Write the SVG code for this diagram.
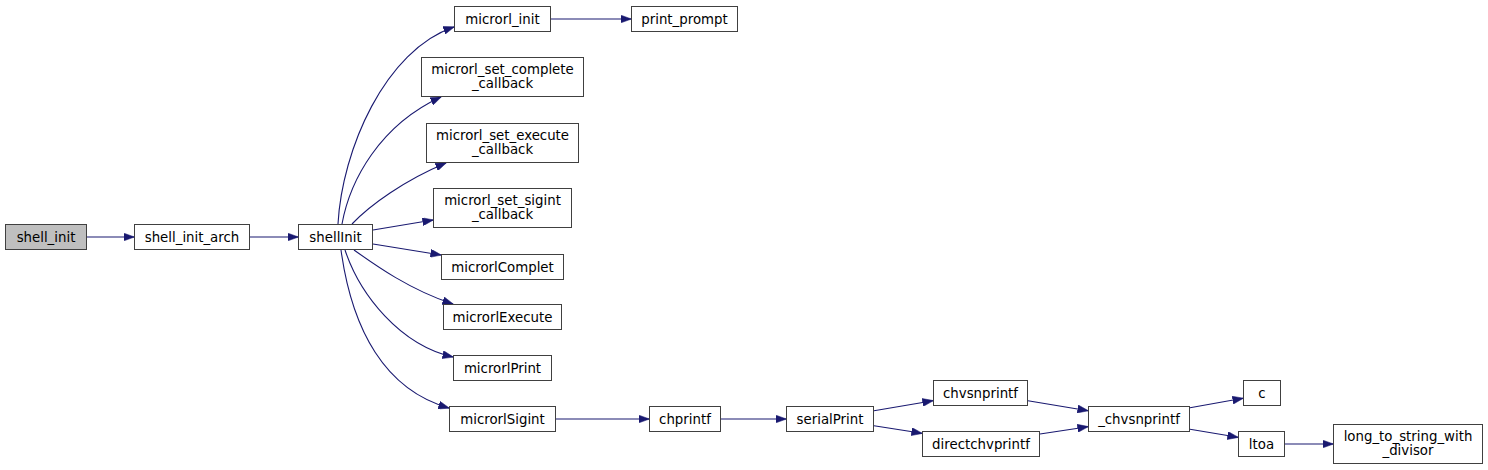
<svg xmlns="http://www.w3.org/2000/svg" width="1488" height="470" viewBox="0 0 1488 470">
<style>
.n rect{fill:#ffffff;stroke:#404040;stroke-width:1}
.n text{font-family:"DejaVu Sans","Liberation Sans",sans-serif;font-size:13.33px;fill:#000000;text-anchor:middle}
#e path{fill:none;stroke:#191970;stroke-width:1.1;marker-end:url(#ah)}
</style>
<defs>
<marker id="ah" markerUnits="userSpaceOnUse" markerWidth="11" markerHeight="8" viewBox="0 0 11 8" refX="10.5" refY="4" orient="auto">
<path d="M0,0 L11,4 L0,8 z" fill="#191970" stroke="#191970" stroke-width="0.5"/>
</marker>
</defs>
<rect width="1488" height="470" fill="#ffffff"/>
<g id="e">
<path d="M87,237 L134,237"/>
<path d="M250,237 L298,237"/>
<path d="M338,224 C342,150 385,50 454,27"/>
<path d="M342,224 C350,180 380,125 441,97"/>
<path d="M352,224 C370,205 405,180 446,163"/>
<path d="M373,230 L433,220"/>
<path d="M373,244 L441,255"/>
<path d="M354,250 C375,265 410,290 453,304"/>
<path d="M345,250 C360,295 400,345 453,357"/>
<path d="M341,250 C352,330 385,390 449,408"/>
<path d="M551,19 L631,19"/>
<path d="M556,419 L649,419"/>
<path d="M721,419 L786,419"/>
<path d="M874,410.7 L933,400.7"/>
<path d="M874,425.7 L922,433.3"/>
<path d="M1028,400.7 L1088,410.7"/>
<path d="M1040,434 L1088,426.7"/>
<path d="M1190,407.7 L1243,398.3"/>
<path d="M1190,429.3 L1238,437.3"/>
<path d="M1285,444 L1333,444"/>
</g>
<g id="shell_init" class="n"><rect x="5.5" y="224.5" width="81" height="25" style="fill:#bfbfbf"/><text x="46" y="241.5">shell_init</text></g>
<g id="shell_init_arch" class="n"><rect x="134.5" y="224.5" width="115" height="25"/><text x="192" y="241.5">shell_init_arch</text></g>
<g id="shellInit" class="n"><rect x="298.5" y="224.5" width="74" height="25"/><text x="335.5" y="241.5">shellInit</text></g>
<g id="microrl_init" class="n"><rect x="454.5" y="6.5" width="96" height="25"/><text x="502.5" y="23.5">microrl_init</text></g>
<g id="print_prompt" class="n"><rect x="631.5" y="6.5" width="106" height="25"/><text x="684.5" y="23.5">print_prompt</text></g>
<g id="microrl_set_complete_callback" class="n"><rect x="421.5" y="57.5" width="162" height="39"/><text x="502.5" y="73.5">microrl_set_complete</text><text x="502.5" y="87.5">_callback</text></g>
<g id="microrl_set_execute_callback" class="n"><rect x="426.5" y="123.5" width="152" height="39"/><text x="502.5" y="139.5">microrl_set_execute</text><text x="502.5" y="153.5">_callback</text></g>
<g id="microrl_set_sigint_callback" class="n"><rect x="433.5" y="188.5" width="138" height="39"/><text x="502.5" y="204.5">microrl_set_sigint</text><text x="502.5" y="218.5">_callback</text></g>
<g id="microrlComplet" class="n"><rect x="441.5" y="254.5" width="122" height="25"/><text x="502.5" y="271.5">microrlComplet</text></g>
<g id="microrlExecute" class="n"><rect x="443.5" y="304.5" width="118" height="25"/><text x="502.5" y="321.5">microrlExecute</text></g>
<g id="microrlPrint" class="n"><rect x="453.5" y="355.5" width="98" height="25"/><text x="502.5" y="372.5">microrlPrint</text></g>
<g id="microrlSigint" class="n"><rect x="449.5" y="406.5" width="106" height="25"/><text x="502.5" y="423.5">microrlSigint</text></g>
<g id="chprintf" class="n"><rect x="649.5" y="406.5" width="71" height="25"/><text x="685" y="423.5">chprintf</text></g>
<g id="serialPrint" class="n"><rect x="786.5" y="406.5" width="87" height="25"/><text x="830" y="423.5">serialPrint</text></g>
<g id="chvsnprintf" class="n"><rect x="933.5" y="380.5" width="94" height="25"/><text x="980.5" y="397.5">chvsnprintf</text></g>
<g id="directchvprintf" class="n"><rect x="922.5" y="431.5" width="117" height="25"/><text x="981" y="448.5">directchvprintf</text></g>
<g id="_chvsnprintf" class="n"><rect x="1088.5" y="406.5" width="101" height="25"/><text x="1139" y="423.5">_chvsnprintf</text></g>
<g id="c" class="n"><rect x="1243.5" y="380.5" width="37" height="25"/><text x="1262" y="397.5">c</text></g>
<g id="ltoa" class="n"><rect x="1238.5" y="431.5" width="46" height="25"/><text x="1261.5" y="448.5">ltoa</text></g>
<g id="long_to_string_with_divisor" class="n"><rect x="1333.5" y="424.5" width="149" height="39"/><text x="1408" y="440.5">long_to_string_with</text><text x="1408" y="454.5">_divisor</text></g>
</svg>
